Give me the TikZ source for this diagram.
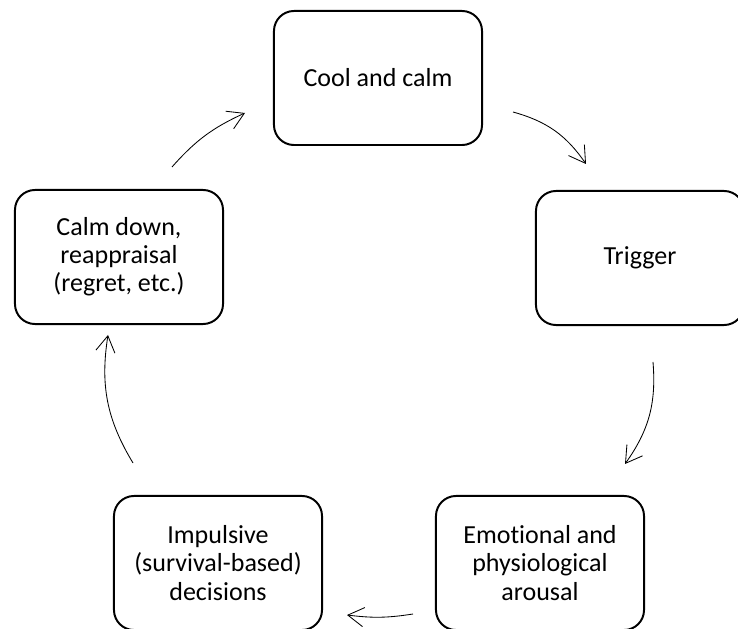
\documentclass[tikz,border=0pt]{standalone}
\usepackage{fontspec}
\setmainfont[Ligatures=CommonOff]{Carlito}
\usetikzlibrary{arrows.meta}

\begin{document}
\begin{tikzpicture}[x=0.025cm,y=-0.025cm,>={Straight Barb[length=4mm,width=4.8mm]},
  stage/.style={rectangle,draw,line width=1.4pt,rounded corners=0.5cm,minimum width=5.2cm,minimum height=3.35cm,align=center,inner sep=2pt,font=\fontsize{18.5}{20}\selectfont},
  cyc/.style={->,line width=0.6pt}]
  \useasboundingbox (0,0) rectangle (738,629);
  \node[stage] (cool) at (378,78) {Cool and calm};
  \node[stage] (trigger) at (640,258) {Trigger};
  \node[stage] (arousal) at (540,563) {Emotional and\\physiological\\arousal};
  \node[stage] (impulsive) at (218,563) {Impulsive\\(survival-based)\\decisions};
  \node[stage] (calmdown) at (119,257) {Calm down,\\reappraisal\\(regret, etc.)};
  % free ends of the cycle arrows
  \coordinate (s1) at (513,112); \coordinate (e1) at (586,164);
  \coordinate (s2) at (653,362); \coordinate (e2) at (625,464);
  \coordinate (s3) at (413,614); \coordinate (e3) at (347,615);
  \coordinate (s4) at (133,463); \coordinate (e4) at (108,335);
  \coordinate (s5) at (172,167); \coordinate (e5) at (245,113);
  \draw[cyc] (s1) to[bend left=20] (e1);
  \draw[cyc] (s2) to[bend left=20] (e2);
  \draw[cyc] (s3) to[bend left=8] (e3);
  \draw[cyc] (s4) to[bend left=20] (e4);
  \draw[cyc] (s5) to[bend left=12] (e5);
\end{tikzpicture}
\end{document}
